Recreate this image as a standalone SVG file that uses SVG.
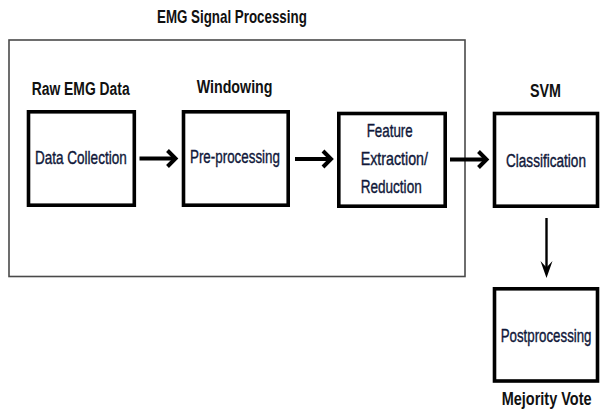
<svg xmlns="http://www.w3.org/2000/svg" width="600" height="414" viewBox="0 0 600 414">
<style>
.bg{fill:#fff}
.frame{fill:none;stroke:#4a4a4a;stroke-width:1.6}
.box{fill:#fff;stroke:#000;stroke-width:3.6}
.hd{font-family:"Liberation Sans",Arial,sans-serif;font-weight:bold;font-size:19px;fill:#111}
.tx{font-family:"Liberation Sans",Arial,sans-serif;font-size:19px;fill:#10183a;stroke:#10183a;stroke-width:0.4}
.conn{fill:none;stroke:#000;stroke-width:4;stroke-linejoin:miter}
.vconn{fill:none;stroke:#000;stroke-width:2.4}
.head{fill:#000;stroke:none}
</style>
<rect class="bg" x="0" y="0" width="600" height="414"/>
<g id="emg-signal-processing">
<rect class="frame" x="9" y="40" width="456" height="236.5"/>
<text class="hd" transform="translate(157,22.5) scale(0.703,1)">EMG Signal Processing</text>
</g>
<g id="data-collection">
<text class="hd" transform="translate(31.7,95) scale(0.731,1)">Raw EMG Data</text>
<rect class="box" x="28.5" y="111.8" width="105.8" height="93.4"/>
<text class="tx" transform="translate(35,164) scale(0.712,1)">Data Collection</text>
</g>
<g id="pre-processing">
<text class="hd" transform="translate(196.7,92.7) scale(0.75,1)">Windowing</text>
<rect class="box" x="183.5" y="111.8" width="104.7" height="93.4"/>
<text class="tx" transform="translate(190,163.4) scale(0.704,1)">Pre-processing</text>
</g>
<g id="feature-extraction">
<rect class="box" x="338.8" y="113.5" width="106.4" height="92.7"/>
<text class="tx" transform="translate(366.7,136.7) scale(0.703,1)">Feature</text>
<text class="tx" transform="translate(360.7,165) scale(0.75,1)">Extraction/</text>
<text class="tx" transform="translate(360.7,193.3) scale(0.713,1)">Reduction</text>
</g>
<g id="classification">
<text class="hd" transform="translate(530,97.3) scale(0.753,1)">SVM</text>
<rect class="box" x="494.5" y="113.5" width="103" height="92.7"/>
<text class="tx" transform="translate(506,166.7) scale(0.715,1)">Classification</text>
</g>
<g id="postprocessing">
<rect class="box" x="494.5" y="288.8" width="103" height="92.2"/>
<text class="tx" transform="translate(500.7,341.7) scale(0.70,1)">Postprocessing</text>
<text class="hd" transform="translate(501.7,405) scale(0.763,1)">Mejority Vote</text>
</g>
<g id="connectors">
<path class="conn" d="M139.5,158.5 H174"/>
<path class="conn" d="M167.5,150.5 L175.5,158.5 L167.5,166.5"/>
<path class="conn" d="M295,159 H330"/>
<path class="conn" d="M323,151 L331,159 L323,167"/>
<path class="conn" d="M450,159.5 H485"/>
<path class="conn" d="M478.5,151.5 L486.5,159.5 L478.5,167.5"/>
<path class="vconn" d="M546.5,218 V270"/>
<path class="head" d="M540.5,261 L546.5,267.5 L552.5,261 L546.5,278 Z"/>
</g>
</svg>
